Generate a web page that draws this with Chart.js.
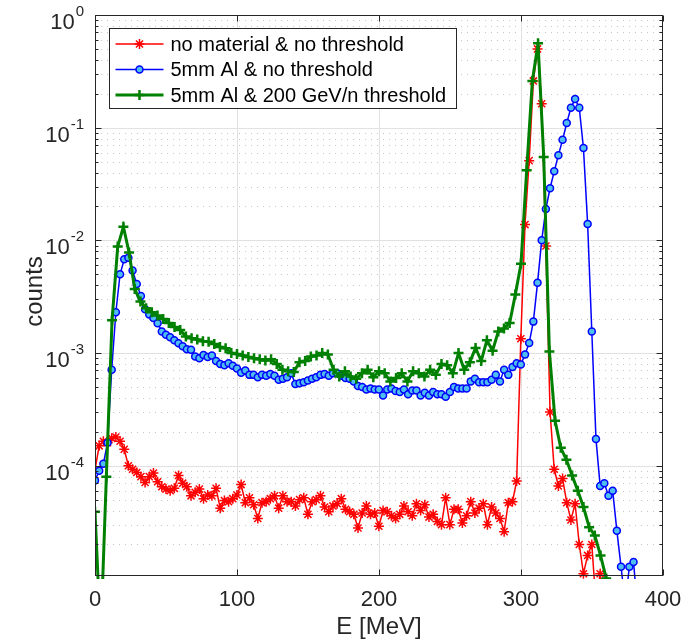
<!DOCTYPE html>
<html>
<head>
<meta charset="utf-8">
<title>counts vs E</title>
<script src="https://cdn.jsdelivr.net/npm/chart.js@4.4.1/dist/chart.umd.min.js"></script>
<style>
  html, body { margin: 0; padding: 0; background: #fff; }
  #wrap { width: 691px; height: 641px; }
</style>
</head>
<body>
<div id="wrap"><canvas id="spectrum" width="691" height="641"></canvas></div>
<script>
/* Energy spectra, three configurations, MATLAB-style log plot */

// --- Data ---

// histogram bin widths in MeV (fine binning for red/blue, coarser for green)
const BIN_FINE = 2.94;
const BIN_COARSE = 4;

const redCounts = [
  9.2e-5, 1.5e-4, 1.65e-4, 1.6e-4, 1.75e-4, 1.8e-4, 1.65e-4, 1.4e-4, 1.0e-4, 9.3e-5,
  8.7e-5, 8.0e-5, 7.1e-5, 8.0e-5, 8.6e-5, 7.2e-5, 6.5e-5, 6.2e-5, 6.0e-5, 6.3e-5,
  8.2e-5, 7.0e-5, 6.5e-5, 5.4e-5, 5.8e-5, 6.2e-5, 5.1e-5, 5.5e-5, 5.4e-5, 6.3e-5,
  4.2e-5, 4.9e-5, 4.8e-5, 5.1e-5, 5.5e-5, 6.8e-5, 4.7e-5, 5.2e-5, 4.5e-5, 3.4e-5,
  4.7e-5, 4.8e-5, 5.1e-5, 5.4e-5, 4.2e-5, 5.4e-5, 4.8e-5, 4.8e-5, 4.4e-5, 5.0e-5,
  5.2e-5, 3.7e-5, 4.8e-5, 5.0e-5, 5.4e-5, 4.3e-5, 3.9e-5, 4.4e-5, 4.6e-5, 5.1e-5,
  4.1e-5, 3.9e-5, 3.7e-5, 2.8e-5, 3.8e-5, 4.4e-5, 3.7e-5, 3.8e-5, 2.9e-5, 4.0e-5,
  3.9e-5, 3.6e-5, 3.4e-5, 3.7e-5, 4.4e-5, 3.9e-5, 3.6e-5, 4.6e-5, 4.0e-5, 4.5e-5,
  3.5e-5, 3.7e-5, 3.2e-5, 3.0e-5, 5.2e-5, 3.0e-5, 4.1e-5, 4.1e-5, 3.1e-5, 3.6e-5,
  4.8e-5, 3.8e-5, 4.2e-5, 4.6e-5, 3.0e-5, 4.3e-5, 3.8e-5, 3.4e-5, 2.6e-5, 4.7e-5,
  4.8e-5, 7.3e-5, 1.34e-3, 1.38e-2, 5.1e-2, 0.26, 0.50, 0.163, 8.9e-3, 3.0e-4,
  9.3e-5, 6.6e-5, 7.7e-5, 4.7e-5, 3.3e-5, 4.6e-5, 2.0e-5, 1.1e-5, 1.6e-5, 2.0e-5,
  6e-6, 1.1e-5, 5e-6
];

const blueCounts = [
  7.4e-5, 9.0e-5, 1.04e-4, 1.6e-4, 7.1e-4, 2.3e-3, 5.0e-3, 6.8e-3, 7.0e-3, 5.4e-3,
  4.1e-3, 3.2e-3, 2.45e-3, 2.2e-3, 2.05e-3, 1.84e-3, 1.55e-3, 1.45e-3, 1.38e-3, 1.3e-3,
  1.22e-3, 1.15e-3, 1.08e-3, 1.07e-3, 9.3e-4, 9.0e-4, 9.6e-4, 9.2e-4, 9.5e-4, 8.5e-4,
  8.0e-4, 7.8e-4, 8.1e-4, 7.7e-4, 7.3e-4, 6.7e-4, 7.0e-4, 6.4e-4, 6.4e-4, 6.1e-4,
  6.4e-4, 6.3e-4, 6.5e-4, 6.3e-4, 5.8e-4, 5.9e-4, 6.1e-4, 6.6e-4, 5.3e-4, 5.4e-4,
  5.5e-4, 5.7e-4, 5.9e-4, 6.1e-4, 6.4e-4, 6.5e-4, 6.3e-4, 6.6e-4, 6.6e-4, 6.3e-4,
  6.0e-4, 5.9e-4, 5.6e-4, 5.1e-4, 5.0e-4, 4.75e-4, 4.84e-4, 4.75e-4, 4.75e-4, 4.2e-4,
  4.75e-4, 4.84e-4, 4.6e-4, 4.5e-4, 4.75e-4, 4.3e-4, 4.65e-4, 4.65e-4, 4.2e-4, 4.45e-4,
  4.2e-4, 4.5e-4, 4.3e-4, 4.3e-4, 4.1e-4, 4.5e-4, 5.0e-4, 4.84e-4, 4.84e-4, 4.84e-4,
  5.6e-4, 5.9e-4, 5.5e-4, 5.5e-4, 5.5e-4, 5.8e-4, 6.4e-4, 5.6e-4, 7.1e-4, 6.4e-4,
  7.5e-4, 8.1e-4, 7.9e-4, 9.7e-4, 1.23e-3, 1.9e-3, 4.2e-3, 1.0e-2, 1.9e-2, 2.9e-2,
  4.1e-2, 5.7e-2, 7.8e-2, 0.11, 0.15, 0.18, 0.15, 0.066, 0.014, 1.55e-3,
  1.73e-4, 6.6e-5, 7.0e-5, 5.4e-5, 6.0e-5, 2.65e-5, 1.27e-5, 6e-6, 1.27e-5, 1.4e-5,
  5e-6
];

const greenCounts = [
  3.9e-5, 3e-6, 8e-5, 1.95e-3, 8.8e-3, 1.32e-2, 7.8e-3, 3.7e-3, 2.86e-3, 2.5e-3,
  2.3e-3, 2.15e-3, 2.0e-3, 1.85e-3, 1.7e-3, 1.6e-3, 1.4e-3, 1.35e-3, 1.32e-3, 1.27e-3,
  1.26e-3, 1.2e-3, 1.13e-3, 1.1e-3, 1.0e-3, 9.8e-4, 9.5e-4, 9.2e-4, 9.0e-4, 8.8e-4,
  8.6e-4, 8.8e-4, 8.0e-4, 7.1e-4, 6.9e-4, 6.8e-4, 8.3e-4, 8.5e-4, 9.3e-4, 9.5e-4,
  1.0e-3, 9.7e-4, 7.1e-4, 6.2e-4, 6.9e-4, 6.2e-4, 5.9e-4, 6.6e-4, 7.1e-4, 6.1e-4,
  6.9e-4, 6.6e-4, 5.6e-4, 6.0e-4, 6.6e-4, 5.6e-4, 6.9e-4, 6.6e-4, 6.2e-4, 7.1e-4,
  6.4e-4, 8.0e-4, 7.8e-4, 6.6e-4, 1.0e-3, 7.1e-4, 8.3e-4, 1.11e-3, 8.5e-4, 1.3e-3,
  1.05e-3, 1.55e-3, 1.65e-3, 1.85e-3, 3.3e-3, 6.2e-3, 4.2e-2, 0.26, 0.56, 0.055,
  1.03e-3, 2.5e-4, 1.44e-4, 1.13e-4, 8.2e-5, 6.0e-5, 4.3e-5, 2.85e-5, 2.4e-5, 1.6e-5,
  1.0e-5
];

const seriesLabels = [
  'no material & no threshold',
  '5mm Al & no threshold',
  '5mm Al & 200 GeV/n threshold'
];

const xTickValues = [0, 100, 200, 300, 400];
const yTickValues = [1e-4, 1e-3, 1e-2, 1e-1, 1];
const yTickExponents = ['-4', '-3', '-2', '-1', '0'];

const X_MIN = 0, X_MAX = 400;
const Y_MIN = 1.05e-5, Y_MAX = 1;

// --- Style ---

const FONT = '"Liberation Sans", Arial, Helvetica, sans-serif';
const AXIS_COLOR = '#262626';

function toPoints(counts, bin) {
    return counts.map((v, i) => ({ x: i * bin, y: v }));
}

function strokeLine(ctx, x1, y1, x2, y2) {
    ctx.beginPath();
    ctx.moveTo(x1, y1);
    ctx.lineTo(x2, y2);
    ctx.stroke();
}

// minor decades for the dotted grid (2..9 x 10^k)
function minorLogValues(min, max) {
    const out = [];
    for (let k = Math.floor(Math.log10(min)); k < Math.ceil(Math.log10(max)); k++) {
        for (let m = 2; m <= 9; m++) {
            const v = m * Math.pow(10, k);
            if (v > min && v < max) out.push(v);
        }
    }
    return out;
}

// MATLAB-like axes: grid, box, inward ticks, labels, legend
const matlabAxes = {
    id: 'matlabAxes',
    beforeDatasetsDraw(chart) {
        const { ctx, chartArea: a, scales: { x, y } } = chart;
        ctx.save();
        ctx.lineWidth = 1;

        // dotted minor grid
        ctx.strokeStyle = '#c6c6c6';
        ctx.setLineDash([1, 5]);
        minorLogValues(Y_MIN, Y_MAX).forEach(v => {
            const py = Math.round(y.getPixelForValue(v)) + 0.5;
            strokeLine(ctx, a.left, py, a.right, py);
        });

        // solid major grid
        ctx.setLineDash([]);
        ctx.strokeStyle = '#e1e1e1';
        yTickValues.forEach(v => {
            const py = Math.round(y.getPixelForValue(v)) + 0.5;
            if (py > a.top + 1 && py < a.bottom - 1) strokeLine(ctx, a.left, py, a.right, py);
        });
        xTickValues.forEach(v => {
            const px = Math.round(x.getPixelForValue(v)) + 0.5;
            if (px > a.left + 1 && px < a.right - 1) strokeLine(ctx, px, a.top, px, a.bottom);
        });
        ctx.restore();
    },
    afterDraw(chart) {
        const { ctx, chartArea: a, scales: { x, y } } = chart;
        const L = Math.round(a.left) + 0.5, R = Math.round(a.right) - 0.5;
        const T = Math.round(a.top) + 0.5, B = Math.round(a.bottom) - 0.5;
        ctx.save();

        // box
        ctx.strokeStyle = AXIS_COLOR;
        ctx.lineWidth = 1;
        ctx.strokeRect(L, T, R - L, B - T);

        // ticks (inward, both sides)
        xTickValues.forEach(v => {
            const px = Math.round(x.getPixelForValue(v)) + 0.5;
            strokeLine(ctx, px, B, px, B - 6);
            strokeLine(ctx, px, T, px, T + 6);
        });
        yTickValues.forEach(v => {
            const py = Math.round(y.getPixelForValue(v)) + 0.5;
            strokeLine(ctx, L, py, L + 6, py);
            strokeLine(ctx, R, py, R - 6, py);
        });
        minorLogValues(Y_MIN, Y_MAX).forEach(v => {
            const py = Math.round(y.getPixelForValue(v)) + 0.5;
            strokeLine(ctx, L, py, L + 3, py);
            strokeLine(ctx, R, py, R - 3, py);
        });

        // tick labels
        ctx.fillStyle = AXIS_COLOR;
        ctx.textBaseline = 'alphabetic';
        ctx.font = '22px ' + FONT;
        ctx.textAlign = 'center';
        xTickValues.forEach(v => {
            ctx.fillText(String(v), x.getPixelForValue(v), a.bottom + 30);
        });

        ctx.textAlign = 'left';
        yTickValues.forEach((v, i) => {
            const py = y.getPixelForValue(v);
            const exp = yTickExponents[i];
            ctx.font = '15px ' + FONT;
            const ew = ctx.measureText(exp).width;
            ctx.font = '22px ' + FONT;
            const bw = ctx.measureText('10').width;
            const right = a.left - 11;
            ctx.fillText('10', right - ew - bw - 1, py + 14);
            ctx.font = '15px ' + FONT;
            ctx.fillText(exp, right - ew, py + 1);
        });

        // axis titles
        ctx.font = '24px ' + FONT;
        ctx.textAlign = 'center';
        ctx.fillText('E [MeV]', (a.left + a.right) / 2, a.bottom + 58);
        ctx.save();
        ctx.translate(42, (a.top + a.bottom) / 2 - 4);
        ctx.rotate(-Math.PI / 2);
        ctx.textBaseline = 'alphabetic';
        ctx.fillText('counts', 0, 0);
        ctx.restore();

        // legend (inside, top-left)
        const rowH = 25.5;
        ctx.font = '20px ' + FONT;
        const maxW = Math.max(...seriesLabels.map(s => ctx.measureText(s).width));
        const bx = Math.round(a.left + 14) + 0.5;
        const by = Math.round(a.top + 13) + 0.5;
        const bw = Math.round(61 + maxW + 10);
        const bh = Math.round(rowH * 2 + 29);
        ctx.fillStyle = '#ffffff';
        ctx.fillRect(bx, by, bw, bh);
        ctx.strokeStyle = AXIS_COLOR;
        ctx.lineWidth = 1;
        ctx.strokeRect(bx, by, bw, bh);

        chart.data.datasets.forEach((ds, i) => {
            const cy = by + 15.5 + i * rowH;
            ctx.strokeStyle = ds.borderColor;
            ctx.lineWidth = ds.borderWidth;
            strokeLine(ctx, bx + 6, cy, bx + 54, cy);
            ctx.fillStyle = ds.pointBackgroundColor || ds.borderColor;
            ctx.strokeStyle = ds.pointBorderColor;
            ctx.lineWidth = ds.pointBorderWidth;
            Chart.helpers.drawPoint(ctx, {
                pointStyle: ds.pointStyle,
                radius: ds.pointRadius,
                borderWidth: ds.pointBorderWidth,
                rotation: 0
            }, bx + 30, cy);
            ctx.fillStyle = '#000000';
            ctx.textAlign = 'left';
            ctx.textBaseline = 'middle';
            ctx.fillText(ds.label, bx + 61, cy + 1);
        });

        ctx.restore();
    }
};

// --- Chart ---

const ctx = document.getElementById('spectrum').getContext('2d');

new Chart(ctx, {
    type: 'line',
    data: {
        datasets: [{
            label: seriesLabels[0],
            data: toPoints(redCounts, BIN_FINE),
            borderColor: '#ff0000',
            borderWidth: 1.5,
            pointStyle: 'star',
            pointRadius: 5,
            pointBorderColor: '#ff0000',
            pointBorderWidth: 1.5,
            order: 3,
        }, {
            label: seriesLabels[1],
            data: toPoints(blueCounts, BIN_FINE),
            borderColor: '#0000ff',
            borderWidth: 1.5,
            pointStyle: 'circle',
            pointRadius: 3.5,
            pointBackgroundColor: '#4dbeee',
            pointBorderColor: '#0000ff',
            pointBorderWidth: 1.5,
            order: 2,
        }, {
            label: seriesLabels[2],
            data: toPoints(greenCounts, BIN_COARSE),
            borderColor: '#008000',
            borderWidth: 3,
            pointStyle: 'cross',
            pointRadius: 5,
            pointBorderColor: '#008000',
            pointBorderWidth: 2.5,
            order: 1,
        }]
    },
    options: {
        responsive: false,
        animation: false,
        clip: { left: 0, top: 0, right: 0, bottom: 3 },
        layout: { padding: { left: 95, right: 28, top: 15, bottom: 65 } },
        elements: { line: { tension: 0, fill: false } },
        plugins: {
            legend: { display: false },
            tooltip: { enabled: false }
        },
        scales: {
            x: { type: 'linear', min: X_MIN, max: X_MAX, display: false },
            y: { type: 'logarithmic', min: Y_MIN, max: Y_MAX, display: false }
        }
    },
    plugins: [matlabAxes]
});
</script>
</body>
</html>
